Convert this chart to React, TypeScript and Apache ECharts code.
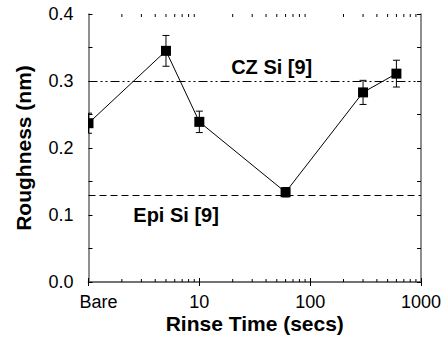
import React, { useEffect, useRef } from "react";
import * as echarts from "echarts";

const times = [1, 5, 10, 60, 300, 600];
const roughness = [0.237, 0.345, 0.239, 0.134, 0.283, 0.311];
const errors = [0.015, 0.023, 0.016, 0.007, 0.018, 0.02];
const xTickLabels: Record<number, string> = { 1: "Bare", 10: "10", 100: "100", 1000: "1000" };
const czSi = 0.3;
const epiSi = 0.13;
const czLabel = "CZ Si [9]";
const epiLabel = "Epi Si [9]";
const czLabelAt = [45, 0.321];
const epiLabelAt = [6.17, 0.1];

const decades = [1, 10, 100];
const minorTicks: number[] = [];
decades.forEach((d) => {
  for (let k = 2; k <= 9; k++) minorTicks.push(d * k);
});

const FONT = "'Liberation Sans', Arial, sans-serif";
const AXIS_COLOR = "#6a6a6a";

export default function App() {
  const ref = useRef<HTMLDivElement>(null);
  useEffect(() => {
    if (!ref.current) return;
    document.body.style.margin = "0";
    const chart = echarts.init(ref.current, null, { renderer: "svg" });
    const axisLine = { show: true, lineStyle: { color: AXIS_COLOR, width: 1.5 } };
    const tickStyle = { color: "#000", width: 1 };
    chart.setOption({
      animation: false,
      backgroundColor: "#fff",
      grid: { left: 88.5, right: 24, top: 14, bottom: 61, containLabel: false },
      xAxis: [
        {
          type: "log",
          min: 1,
          max: 1000,
          logBase: 10,
          position: "bottom",
          name: "Rinse Time (secs)",
          nameLocation: "middle",
          nameGap: 31,
          nameMoveOverlap: false,
          nameTextStyle: { fontFamily: FONT, fontSize: 21, fontWeight: "bold", color: "#000" },
          axisLine,
          axisTick: { show: true, inside: true, length: 4, lineStyle: tickStyle },
          splitLine: { show: false },
          axisLabel: {
            show: true,
            margin: 11,
            fontFamily: FONT,
            fontSize: 18,
            lineHeight: 18,
            color: "#000",
            showMaxLabel: true,
            showMinLabel: true,
            formatter: (v: number) => {
              const key = Math.round(v);
              if (key === 1) return "{b|" + xTickLabels[1] + "}";
              return xTickLabels[key] ?? "";
            },
            rich: { b: { fontFamily: FONT, fontSize: 18, lineHeight: 18, color: "#000", padding: [0, 0, 0, 20] } },
          },
        },
        {
          type: "log",
          min: 1,
          max: 1000,
          logBase: 10,
          position: "top",
          axisLine,
          axisTick: { show: true, inside: true, length: 4, lineStyle: tickStyle },
          axisLabel: { show: false },
          splitLine: { show: false },
        },
      ],
      yAxis: [
        {
          type: "value",
          min: 0,
          max: 0.4,
          interval: 0.1,
          position: "left",
          name: "Roughness (nm)",
          nameLocation: "middle",
          nameGap: 55,
          nameMoveOverlap: false,
          nameTextStyle: { fontFamily: FONT, fontSize: 21, fontWeight: "bold", color: "#000" },
          axisLine,
          axisTick: { show: true, inside: true, length: 4, lineStyle: tickStyle },
          minorTick: { show: true, splitNumber: 2, length: 4, lineStyle: tickStyle },
          splitLine: { show: false },
          axisLabel: {
            margin: 15,
            fontFamily: FONT,
            fontSize: 18,
            color: "#000",
            formatter: (v: number) => v.toFixed(1),
          },
        },
        {
          type: "value",
          min: 0,
          max: 0.4,
          interval: 0.1,
          position: "right",
          axisLine,
          axisTick: { show: true, inside: true, length: 4, lineStyle: tickStyle },
          minorTick: { show: true, splitNumber: 2, length: 4, lineStyle: tickStyle },
          splitLine: { show: false },
          axisLabel: { show: false },
        },
      ],
      series: [
        {
          type: "custom",
          name: "minorTicks",
          silent: true,
          xAxisIndex: 0,
          yAxisIndex: 0,
          data: minorTicks.map((v) => [v, 0]),
          encode: { x: 0, y: 1 },
          renderItem: (params: any, api: any) => {
            const cs = params.coordSys;
            const x = api.coord([api.value(0), 0])[0];
            const bottom = cs.y + cs.height;
            const top = cs.y;
            return {
              type: "group",
              children: [
                { type: "line", shape: { x1: x, y1: bottom, x2: x, y2: bottom - 3 }, style: { stroke: "#000", lineWidth: 1 } },
                { type: "line", shape: { x1: x, y1: top, x2: x, y2: top + 3 }, style: { stroke: "#000", lineWidth: 1 } },
              ],
            };
          },
          z: 3,
        },
        {
          type: "line",
          name: "Roughness",
          data: times.map((t, i) => [t, roughness[i]]),
          symbol: "none",
          lineStyle: { color: "#000", width: 1 },
          clip: true,
          z: 4,
          markLine: {
            silent: true,
            symbol: "none",
            label: { show: false },
            data: [
              { yAxis: czSi, lineStyle: { color: "#000", width: 1, type: [9, 3, 2, 3, 2, 3] } },
              { yAxis: epiSi, lineStyle: { color: "#000", width: 1, type: [7, 4] } },
            ],
          },
          markPoint: {
            silent: true,
            symbol: "rect",
            symbolSize: 1,
            itemStyle: { color: "rgba(0,0,0,0)" },
            label: {
              show: true,
              position: "inside",
              fontFamily: FONT,
              fontSize: 20,
              fontWeight: "bold",
              color: "#000",
            },
            data: [
              { coord: czLabelAt, value: 0, label: { formatter: czLabel } },
              { coord: epiLabelAt, value: 0, label: { formatter: epiLabel } },
            ],
          },
        },
        {
          type: "custom",
          name: "points",
          data: times.map((t, i) => [t, roughness[i], errors[i]]),
          encode: { x: 0, y: 1 },
          renderItem: (params: any, api: any) => {
            const cs = params.coordSys;
            const left = cs.x;
            const x = api.value(0);
            const y = api.value(1);
            const e = api.value(2);
            const c = api.coord([x, y]);
            const hi = api.coord([x, y + e]);
            const lo = api.coord([x, y - e]);
            const cap = 3.5;
            const s = { stroke: "#000", lineWidth: 1 };
            const capL = Math.max(left, c[0] - cap);
            const rx = Math.max(left, c[0] - 5);
            const rectShape = { x: rx, y: c[1] - 5, width: c[0] + 5 - rx, height: 10 };
            return {
              type: "group",
              children: [
                { type: "line", shape: { x1: c[0], y1: hi[1], x2: c[0], y2: lo[1] }, style: s },
                { type: "line", shape: { x1: capL, y1: hi[1], x2: c[0] + cap, y2: hi[1] }, style: s },
                { type: "line", shape: { x1: capL, y1: lo[1], x2: c[0] + cap, y2: lo[1] }, style: s },
                { type: "rect", shape: rectShape, style: { fill: "#000" } },
              ],
            };
          },
          z: 5,
        },
      ],
    });
    return () => chart.dispose();
  }, []);
  return <div ref={ref} style={{ width: 445, height: 343 }} />;
}
